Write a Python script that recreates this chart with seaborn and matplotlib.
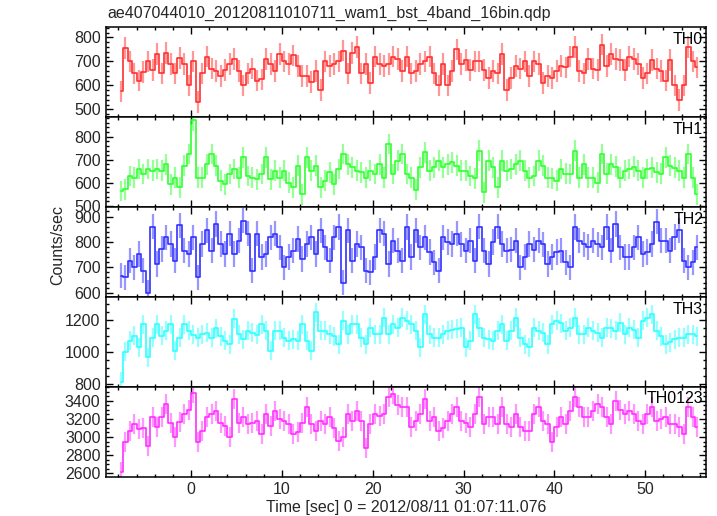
import numpy as np
import pandas as pd
import matplotlib
matplotlib.use('Agg')
import matplotlib.pyplot as plt
from matplotlib.ticker import MultipleLocator
import seaborn as sns

# light curve, 0.5 s bins starting at t = -7.75 s
t_start = -7.75
bin_sec = 0.5

bands = ['TH0', 'TH1', 'TH2', 'TH3', 'TH0123']

th0 = [575, 755, 700, 650, 620, 655, 700, 665, 730, 650,
       735, 690, 650, 715, 690, 600, 700, 530, 650, 720,
       670, 660, 640, 665, 690, 710, 660, 600, 650, 670,
       620, 625, 710, 690, 660, 730, 700, 690, 725, 680,
       640, 640, 615, 660, 580, 700, 680, 690, 700, 745,
       650, 735, 760, 650, 690, 610, 720, 690, 680, 690,
       720, 710, 660, 720,
       650, 660, 690, 700, 720, 650, 600, 690, 600, 660,
       750, 690, 705, 665, 700, 700, 665, 630, 660, 650,
       730, 580, 630, 680, 670, 700, 640, 700, 690, 610,
       640, 630, 660, 680, 675, 720, 760, 660, 650, 710,
       670, 665, 770, 680, 730, 710, 705, 665, 720, 710,
       690, 630, 650, 705, 670, 660, 620, 705, 600, 540,
       600, 760, 700, 675]

th1 = [565, 572, 630, 623, 660, 638, 660, 652, 660, 652,
       681, 594, 623, 580, 674, 725, 870, 623, 623, 681,
       725, 674, 609, 594, 638, 660, 623, 710, 630, 623,
       616, 638, 710, 616, 652, 623, 652, 601, 580, 674,
       551, 710, 652, 674, 580, 609, 645, 594, 660, 725,
       681, 667, 652, 645, 623, 652, 638, 681, 623, 768,
       638, 696, 725, 638,
       623, 570, 667, 732, 652, 667, 696, 667, 680, 689,
       675, 652, 652, 630, 620, 740, 560, 696, 667, 580,
       696, 652, 660, 681, 696, 652, 623, 630, 696, 674,
       623, 620, 610, 660, 640, 638, 740, 623, 681, 623,
       623, 600, 725, 640, 681, 670, 623, 652, 660, 670,
       652, 623, 660, 665, 645, 640, 710, 674, 665, 652,
       623, 725, 623, 551]

th2 = [667, 660, 726, 700, 753, 687, 600, 860, 713, 772,
       818, 792, 726, 865, 766, 753, 818, 660, 792, 845,
       766, 871, 792, 753, 832, 753, 805, 884, 832, 687,
       832, 740, 753, 818, 832, 779, 700, 740, 766, 812,
       733, 792, 818, 753, 845, 779, 726, 818, 858, 640,
       845, 726, 792, 779, 687, 680, 740, 845, 832, 713,
       805, 766, 726, 858,
       740, 845, 779, 818, 760, 720, 687, 818, 800, 792,
       832, 790, 766, 805, 726, 860, 766, 713, 800, 860,
       792, 766, 770, 805, 700, 740, 792, 770, 805, 790,
       713, 740, 760, 766, 720, 700, 858, 805, 790, 780,
       805, 790, 779, 858, 766, 870, 779, 740, 740, 779,
       818, 753, 760, 792, 880, 805, 805, 766, 820, 845,
       726, 700, 720, 779]

th3 = [810, 1000, 1071, 1102, 1030, 1175, 967, 1090, 1175, 1102,
       1133, 1175, 1008, 1090, 1175, 1133, 1110, 1090, 1112, 1120,
       1090, 1150, 1100, 1071, 1050, 1210, 1112, 1080, 1133, 1120,
       1110, 1175, 1133, 1008, 1133, 1133, 1090, 1071, 1080, 1071,
       1175, 1071, 1008, 1250, 1133, 1133, 1112, 1100, 1050, 1196,
       1112, 1175, 1175, 1090, 1050, 1154, 1112, 1112, 1217, 1112,
       1175, 1154, 1217, 1196,
       1175, 1133, 1030, 1237, 1112, 1090, 1090, 1112, 1133, 1140,
       1145, 1154, 1030, 1071, 1237, 1154, 1090, 1080, 1071, 1133,
       1175, 1071, 1133, 1217, 1090, 1050, 1030, 1154, 1133, 1120,
       1050, 1175, 1196, 1180, 1133, 1154, 1217, 1112, 1112, 1154,
       1133, 1120, 1090, 1154, 1150, 1133, 1185, 1112, 1154, 1140,
       1090, 1196, 1217, 1237, 1133, 1100, 1050, 1060, 1080, 1090,
       1090, 1112, 1112, 1100]

th0123 = [2620, 2950, 3070, 3140, 3085, 3100, 2900, 3220, 3110, 3215,
          3360, 3150, 3000, 3160, 3250, 3300, 3480, 2950, 3070, 3215,
          3250, 3290, 3150, 3120, 3000, 3420, 3150, 3215, 3140, 3150,
          3180, 3030, 3250, 3120, 3290, 3200, 3180, 3140, 3030, 3060,
          3150, 3325, 3140, 3070, 3180, 3140, 3215, 3100, 2955, 3000,
          3250, 3180, 3290, 3180, 2880, 3140, 3250, 3230, 3250, 3440,
          3475, 3350, 3325, 3325,
          3105, 3180, 3250, 3420, 3180, 3215, 3070, 3100, 3180, 3250,
          3325, 3180, 3150, 3105, 3250, 3440, 3140, 3215, 3215, 3140,
          3325, 3140, 3105, 3250, 3105, 3070, 3070, 3250, 3325, 3180,
          3140, 2950, 3105, 3215, 3140, 3290, 3440, 3325, 3215, 3215,
          3290, 3365, 3325, 3215, 3140, 3400, 3300, 3250, 3290, 3250,
          3180, 3140, 3250, 3325, 3180, 3200, 3215, 3140, 3140, 3105,
          3030, 3325, 3215, 3105]

# typical 1-sigma error per band (counts/sec)
errors = [45, 45, 50, 60, 110]

colors = ['#ff3030', '#30ff30', '#3030ff', '#30ffff', '#ff30ff']
ylims = [(467, 842), (495, 884), (583, 937), (779, 1347), (2563, 3551)]
ymajor = [100, 100, 100, 200, 200]
yminor = [20, 20, 20, 50, 50]

sns.set_style('ticks')
plt.rcParams['font.family'] = ['Liberation Sans', 'DejaVu Sans']

frames = []
for band, vals, err in zip(bands, [th0, th1, th2, th3, th0123], errors):
    n = len(vals)
    frames.append(pd.DataFrame({
        'time': t_start + bin_sec * np.arange(n),
        'rate': vals,
        'err': err,
        'band': band,
    }))
df = pd.concat(frames, ignore_index=True)

fig, axes = plt.subplots(5, 1, sharex=True, figsize=(7.17, 5.16), dpi=100)
fig.subplots_adjust(left=0.148, right=0.985, top=0.947, bottom=0.076, hspace=0)

for ax, band, col, ylim, maj, mnr in zip(axes, bands, colors, ylims, ymajor, yminor):
    d = df[df['band'] == band]
    ax.vlines(d['time'], d['rate'] - d['err'], d['rate'] + d['err'],
              color=col, lw=1.6, alpha=0.5)
    sns.lineplot(data=d, x='time', y='rate', color=col, lw=1.2,
                 drawstyle='steps-mid', estimator=None, ax=ax)
    ax.set_xlim(-9.36, 56.72)
    ax.set_ylim(ylim)
    ax.xaxis.set_major_locator(MultipleLocator(10))
    ax.xaxis.set_minor_locator(MultipleLocator(2))
    ax.yaxis.set_major_locator(MultipleLocator(maj))
    ax.yaxis.set_minor_locator(MultipleLocator(mnr))
    ax.tick_params(which='both', direction='in', top=True, right=True,
                   labelsize=11.5, width=1, color='black')
    ax.tick_params(which='major', length=5, pad=4)
    ax.tick_params(which='minor', length=2.5)
    for s in ax.spines.values():
        s.set_linewidth(1.1)
        s.set_color('black')
    ax.set_xlabel('')
    ax.set_ylabel('')
    ax.text(0.995, 0.95, band, transform=ax.transAxes, ha='right', va='top',
            fontsize=11.5, color='black')

axes[-1].set_xlabel('Time [sec] 0 = 2012/08/11 01:07:11.076', fontsize=11.5, labelpad=2)
fig.text(0.081, 0.525, 'Counts/sec', rotation=90, ha='center', va='center', fontsize=11.5)
fig.text(107 / 717, 1 - 13 / 516, 'ae407044010_20120811010711_wam1_bst_4band_16bin.qdp',
         ha='left', va='center', fontsize=11.5)

fig.savefig('out.png', dpi=100)
